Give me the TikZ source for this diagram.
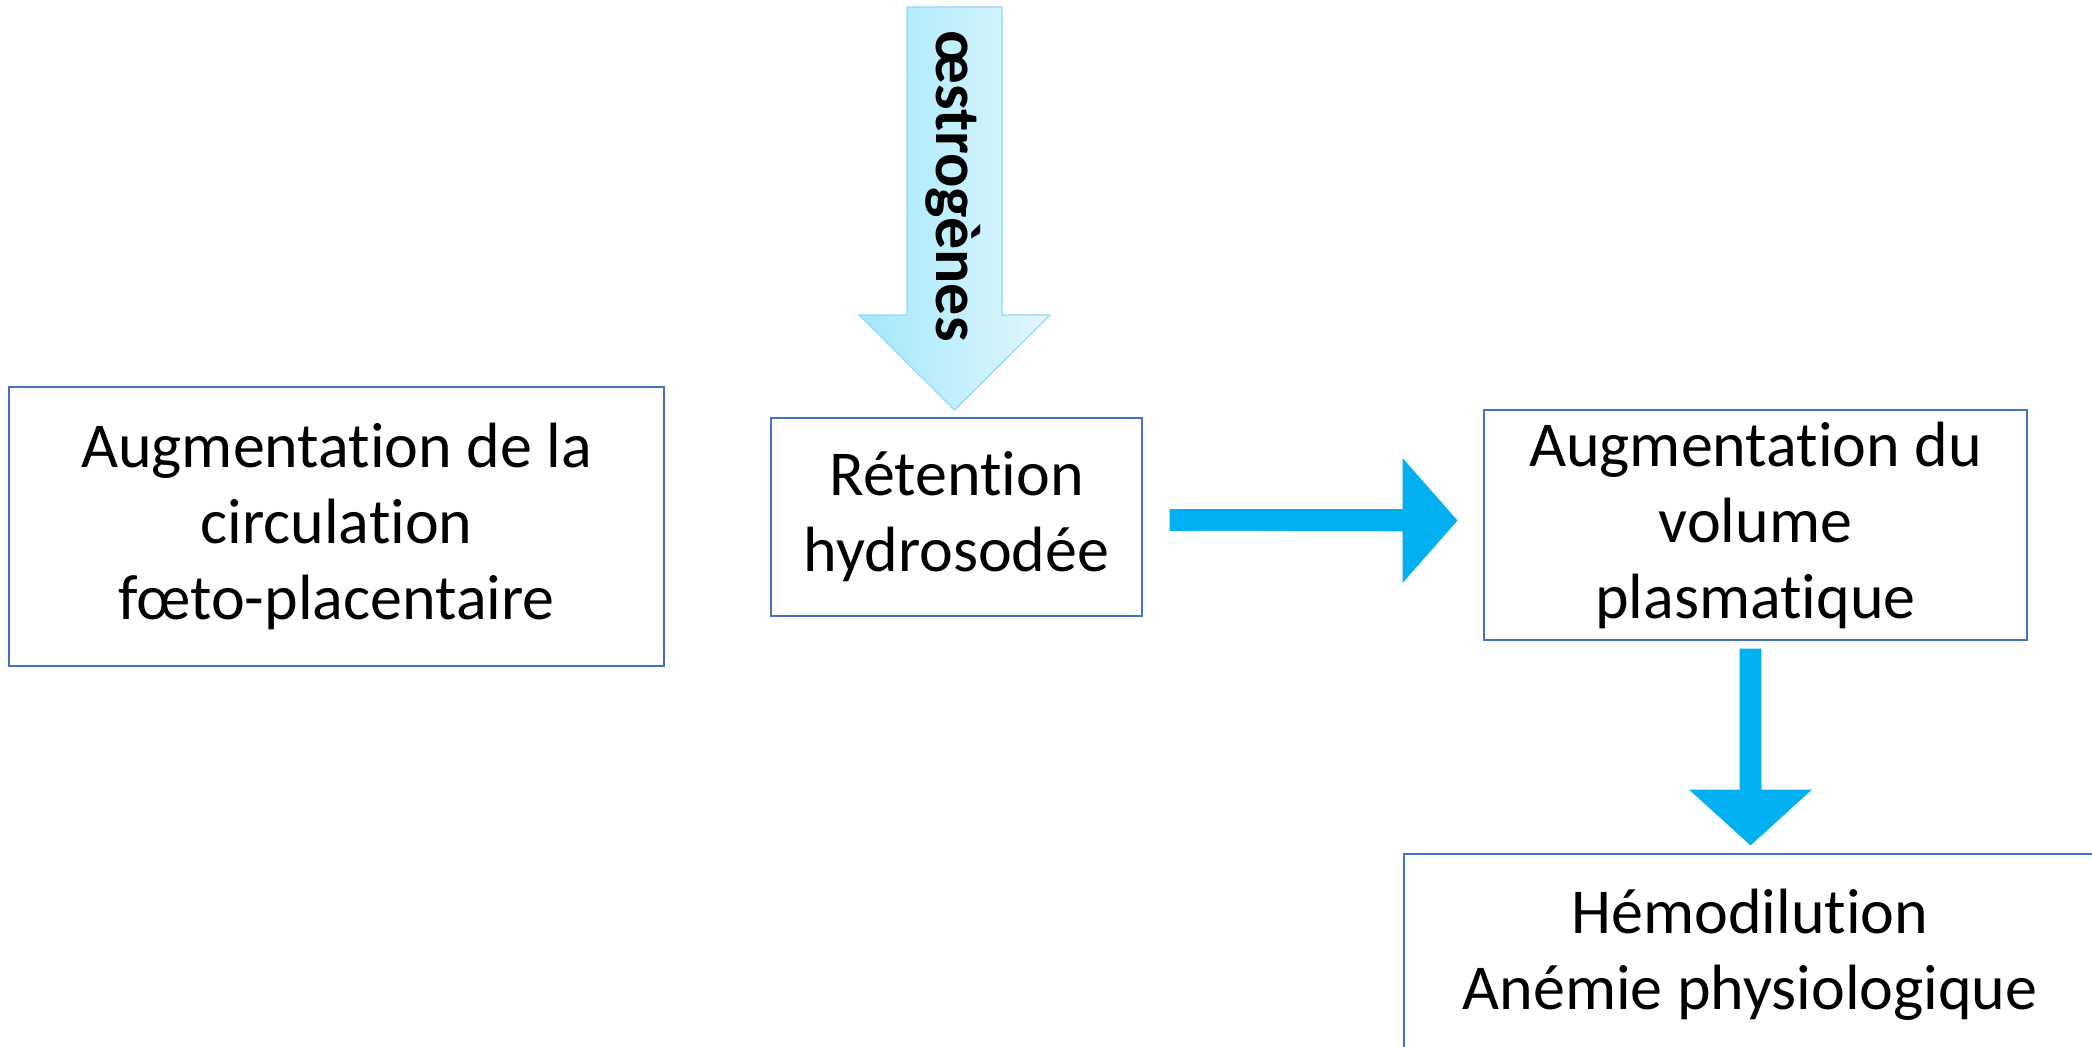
\documentclass[tikz,border=0pt]{standalone}
\usepackage{fontspec}
\setmainfont{Carlito}[Ligatures=NoCommon]
\usetikzlibrary{calc}
\definecolor{boxblue}{HTML}{4472C4}
\definecolor{arrowblue}{HTML}{00B0F0}
\definecolor{lightA}{HTML}{A3E8FB}
\definecolor{lightB}{HTML}{E2F7FD}
\definecolor{lightEdge}{HTML}{8FD9F4}
\tikzset{
  box/.style={draw=boxblue, line width=1pt, align=center, inner sep=0pt,
    font=\fontsize{32}{38}\selectfont},
  blockarrow/.style={fill=arrowblue, draw=arrowblue, line width=0.3pt},
}
\begin{document}
\begin{tikzpicture}[x=0.5pt,y=-0.5pt]
\useasboundingbox (0,0) rectangle (2092,1047);
\clip (0,0) rectangle (2092,1047);
\node[box, minimum width=327.5pt, minimum height=139.5pt] (fp) at (336.5,526.5)
  {Augmentation de la\\circulation\\fœto-placentaire};
\node[box, minimum width=185.5pt, minimum height=99pt] (ret) at (956.5,517)
  {Rétention\\hydrosodée};
\node[box, minimum width=271.5pt, minimum height=115pt] (plas) at (1755.5,525)
  {Augmentation du\\volume\\plasmatique};
\node[box, minimum width=346pt, minimum height=101pt] (hemo) at (1750,955)
  {Hémodilution\\Anémie physiologique};
% top gradient arrow
\path[left color=lightA, right color=lightB, draw=lightEdge, line width=0.6pt]
  ($(ret.north)+(-49.5,-410)$) -- ($(ret.north)+(45.5,-410)$)
  -- ($(ret.north)+(45.5,-102)$) -- ($(ret.north)+(93.5,-102)$)
  -- ($(ret.north)+(-2,-7)$) -- ($(ret.north)+(-97.5,-102)$)
  -- ($(ret.north)+(-49.5,-102)$) -- cycle;
\node[rotate=-90, font=\bfseries\fontsize{32}{38}\selectfont, inner sep=0pt]
  (oes) at (953,186) {œstrogènes};
% horizontal arrow
\path[blockarrow]
  ($(ret.east)+(27,-7.5)$) -- ($(plas.west)+(-80,-15.5)$)
  -- ($(plas.west)+(-80,-66)$) -- ($(plas.west)+(-26,-4.5)$)
  -- ($(plas.west)+(-80,57)$) -- ($(plas.west)+(-80,6)$)
  -- ($(ret.east)+(27,13.5)$) -- cycle;
% vertical arrow
\path[blockarrow]
  ($(plas.south)+(-15.5,8)$) -- ($(plas.south)+(5.5,8)$)
  -- ($(hemo.north)+(11,-63)$) -- ($(hemo.north)+(61,-63)$)
  -- ($(hemo.north)+(0.5,-8)$) -- ($(hemo.north)+(-60,-63)$)
  -- ($(hemo.north)+(-10,-63)$) -- cycle;
\end{tikzpicture}
\end{document}
